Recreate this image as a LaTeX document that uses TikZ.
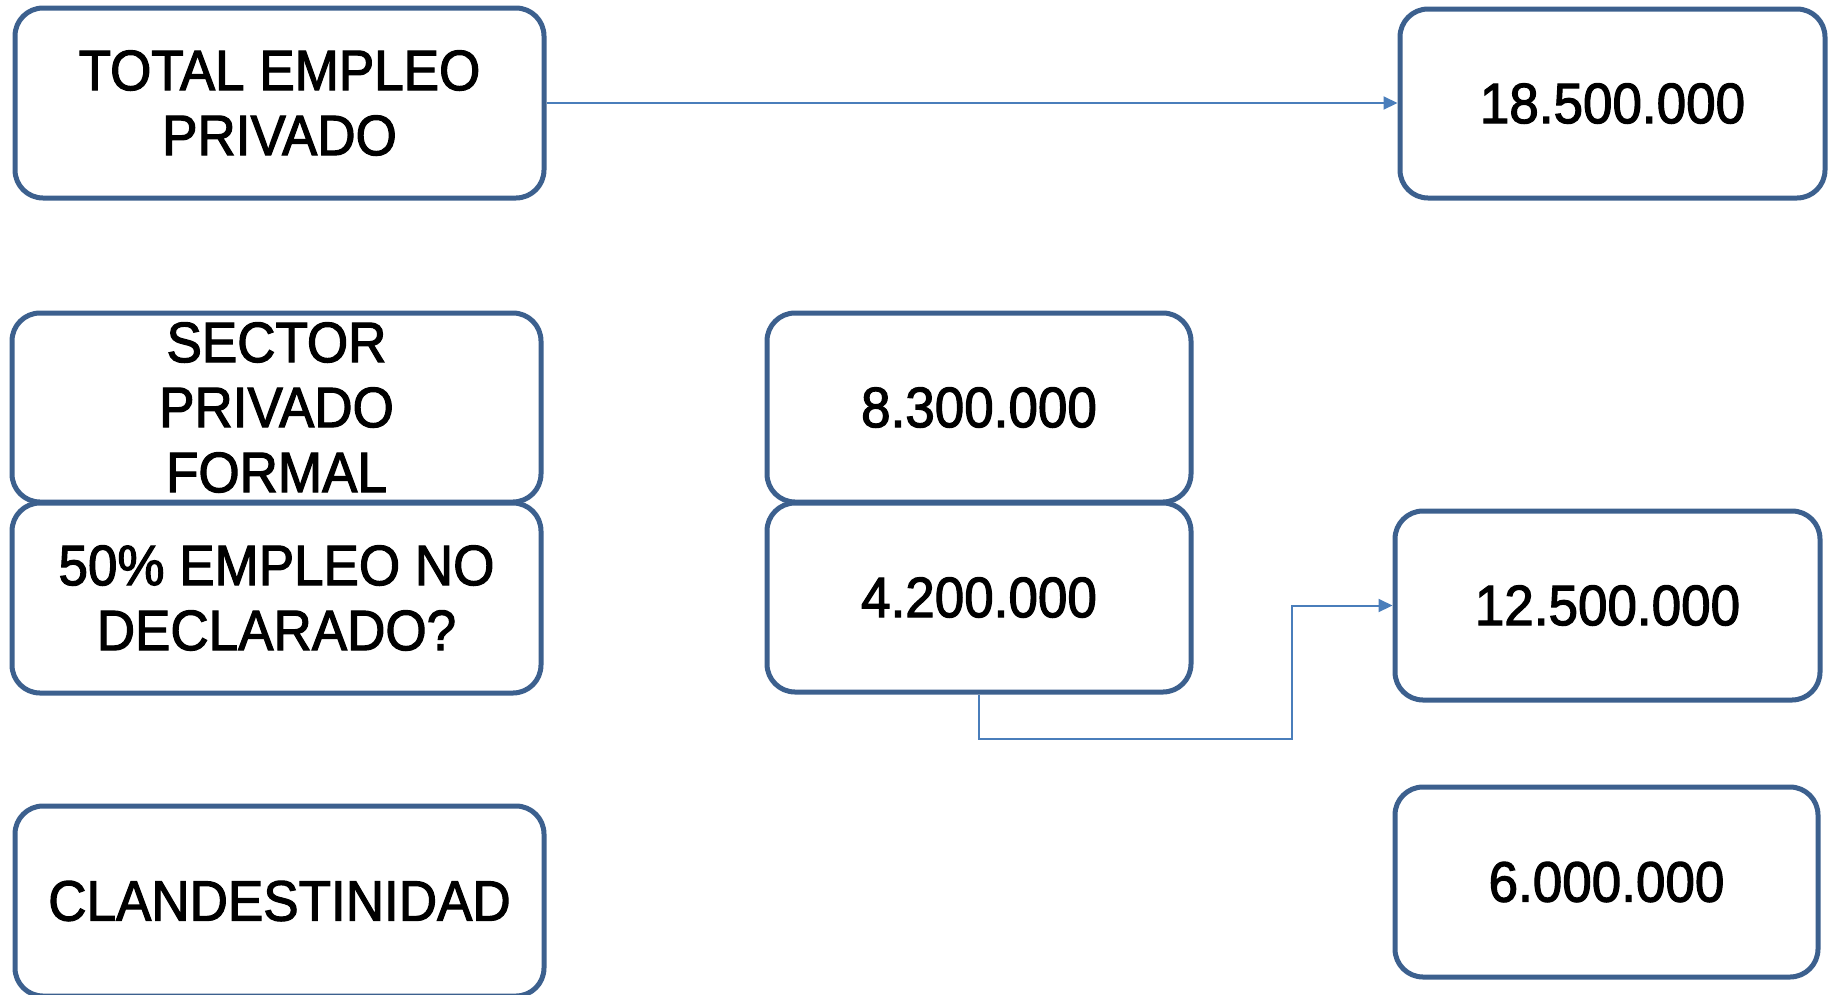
\documentclass[tikz,border=0pt]{standalone}
\usepackage{fontspec}
\setmainfont{Liberation Sans}[FakeStretch=0.93,FakeBold=2]
\usetikzlibrary{arrows.meta}
\definecolor{boxblue}{RGB}{60,96,142}
\definecolor{linkblue}{RGB}{74,126,187}
\begin{document}
\begin{tikzpicture}[x=1pt,y=-1pt,
  box/.style={draw=boxblue, line width=5pt, rounded corners=28pt, fill=white,
    inner sep=0pt, align=center, text=black, font=\fontsize{57}{65}\selectfont},
  conn/.style={draw=linkblue, line width=2pt},
  tip/.style={-{Triangle[length=14pt,width=13pt]}}]
\useasboundingbox (0,0) rectangle (1834,994);
% left column
\node[box, minimum width=529pt, minimum height=190pt] (tot) at (279.5,103) {TOTAL EMPLEO\\PRIVADO};
\node[box, minimum width=529pt, minimum height=189pt] (sec) at (276.5,407.5) {SECTOR\\PRIVADO\\FORMAL};
\node[box, minimum width=529pt, minimum height=190pt] (dec) at (276.5,598) {50\% EMPLEO NO\\DECLARADO?};
\node[box, minimum width=529pt, minimum height=190pt] (cla) at (279.5,901) {CLANDESTINIDAD};
% middle column
\node[box, minimum width=424pt, minimum height=189pt] (m1) at (979,407.5) {8.300.000};
\node[box, minimum width=424pt, minimum height=189pt] (m2) at (979,597.5) {4.200.000};
% right column
\node[box, minimum width=425pt, minimum height=189pt] (r1) at (1612.5,103.5) {18.500.000};
\node[box, minimum width=425pt, minimum height=189pt] (r2) at (1607.5,605.5) {12.500.000};
\node[box, minimum width=423pt, minimum height=190pt] (r3) at (1606.5,882) {6.000.000};
% connectors
\draw[conn, tip] (tot.east) -- (tot.east -| r1.west);
\coordinate (k1) at (979,739);
\coordinate (k2) at (1292,739);
\draw[conn, tip] (m2.south) -- (k1) -- (k2) |- (r2.west);
\end{tikzpicture}
\end{document}
